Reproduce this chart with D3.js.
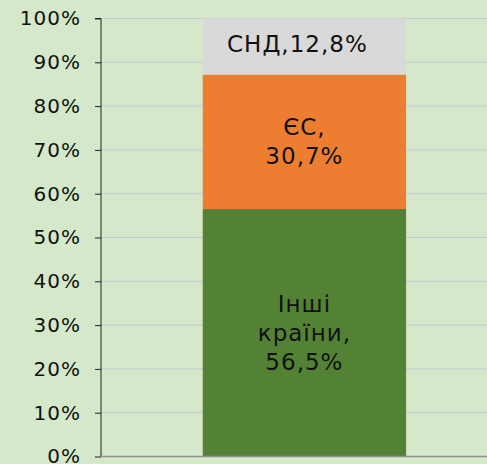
<!DOCTYPE html>
<html>
<head>
<meta charset="utf-8">
<script src="https://cdn.jsdelivr.net/npm/d3@7"></script>
<style>
  body { margin: 0; background: #d5e8c9; }
  svg { display: block; font-family: "DejaVu Sans", Verdana, sans-serif; }
</style>
</head>
<body>
<div id="chart"></div>
<script>
// data
const regions = ["Інші країни", "ЄС", "СНД"];
const shares = [56.5, 30.7, 12.8];
const labelLines = [["Інші", "країни,", "56,5%"], ["ЄС,", "30,7%"], ["СНД,12,8%"]];
const colors = ["#548235", "#ed7d31", "#d9d9d9"];
const yTicks = [0, 10, 20, 30, 40, 50, 60, 70, 80, 90, 100];

const W = 487, H = 464;
const margin = {top: 18.5, right: 0, bottom: 7.5, left: 101};

const svg = d3.select("#chart").append("svg")
    .attr("width", W)
    .attr("height", H);

svg.append("rect").attr("width", W).attr("height", H).attr("fill", "#d5e8c9");

const x = d3.scaleBand()
    .domain(["all"])
    .range([margin.left, W - margin.right])
    .padding(0.31)
    .align(0.557);

const y = d3.scaleLinear()
    .domain([0, 100])
    .range([H - margin.bottom, margin.top]);

// gridlines
svg.append("g")
    .selectAll("line")
    .data(yTicks.slice(1))
    .join("line")
    .attr("x1", margin.left)
    .attr("x2", W - margin.right)
    .attr("y1", d => y(d))
    .attr("y2", d => y(d))
    .attr("stroke", "#c4c9d6")
    .attr("stroke-width", 1);

// stacked segments
let acc = 0;
const segs = shares.map((v, i) => {
  const s = {y0: acc, y1: acc + v, i};
  acc += v;
  return s;
});

svg.append("g")
    .selectAll("rect")
    .data(segs)
    .join("rect")
    .attr("x", x("all"))
    .attr("width", x.bandwidth())
    .attr("y", d => y(d.y1))
    .attr("height", d => y(d.y0) - y(d.y1))
    .attr("fill", d => colors[d.i]);

// labels
const lineH = 29;
const lab = svg.append("g")
    .attr("font-size", 23)
    .attr("letter-spacing", 1)
    .attr("fill", "#111")
    .attr("text-anchor", "middle");

segs.forEach(d => {
  const lines = labelLines[d.i];
  const cy = y((d.y0 + d.y1) / 2) - (d.i === 2 ? 3 : 0);
  const cx = x("all") + x.bandwidth() / 2 - (d.i === 2 ? 7 : 0);
  const t = lab.append("text");
  lines.forEach((l, k) => {
    t.append("tspan")
      .attr("x", cx)
      .attr("y", cy + (k - (lines.length - 1) / 2) * lineH)
      .attr("dy", "0.35em")
      .text(l);
  });
});

// y axis
const yAxis = svg.append("g")
    .attr("transform", `translate(${margin.left},0)`)
    .call(d3.axisLeft(y).tickValues(yTicks).tickSize(6).tickPadding(14)
      .tickFormat(d => d + "%"));
yAxis.selectAll("text")
    .attr("font-size", 20)
    .attr("letter-spacing", 1)
    .attr("fill", "#111")
    .attr("font-family", "DejaVu Sans, Verdana, sans-serif");
yAxis.selectAll("line").attr("stroke", "#222");
yAxis.select(".domain").attr("stroke", "#222").attr("d", `M-6,${y(100)}H0V${y(0)}`);

// bottom axis line
svg.append("line")
    .attr("x1", margin.left)
    .attr("x2", W - margin.right)
    .attr("y1", y(0))
    .attr("y2", y(0))
    .attr("stroke", "#8e8e8e")
    .attr("stroke-width", 1.5);
</script>
</body>
</html>
